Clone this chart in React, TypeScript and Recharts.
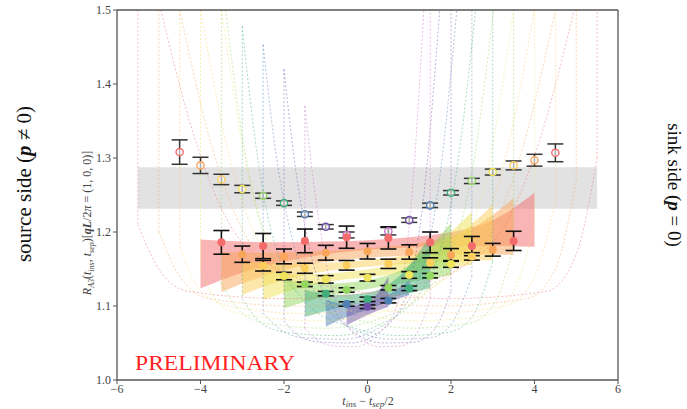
import { ComposedChart, XAxis, YAxis, Line, Area, Scatter, ErrorBar, ReferenceLine } from "recharts";

const FONT = "'Liberation Serif', 'DejaVu Serif', serif";

// colour per t_sep
const tsepColors: Record<number, string> = {
  9: "#f36b6b",
  8: "#f9a55a",
  7: "#fccf5c",
  6: "#f0e45a",
  5: "#94d861",
  4: "#3fae7a",
  3: "#4f7fb3",
  2: "#6f4fa8",
  1: "#c46dc4",
};

// ratio data, t_ins = 1 .. t_sep-1
const x9 = [-3.5, -2.5, -1.5, -0.5, 0.5, 1.5, 2.5, 3.5];
const y9 = [1.186, 1.181, 1.188, 1.193, 1.192, 1.186, 1.181, 1.188];
const e9 = [0.016, 0.017, 0.016, 0.015, 0.015, 0.014, 0.013, 0.013];
const x8 = [-3, -2, -1, 0, 1, 2, 3];
const y8 = [1.170, 1.167, 1.172, 1.174, 1.173, 1.169, 1.176];
const e8 = [0.011, 0.010, 0.010, 0.0105, 0.0097, 0.0086, 0.0086];
const x7 = [-2.5, -1.5, -0.5, 0.5, 1.5, 2.5];
const y7 = [1.1545, 1.151, 1.155, 1.157, 1.1586, 1.167];
const e7 = [0.0072, 0.0068, 0.0065, 0.0063, 0.0065, 0.005];
const x6 = [-2, -1, 0, 1, 2];
const y6 = [1.1405, 1.136, 1.1383, 1.1419, 1.1568];
const e6 = [0.005, 0.005, 0.0045, 0.0045, 0.0045];
const x5 = [-1.5, -0.5, 0.5, 1.5];
const y5 = [1.1293, 1.1216, 1.1247, 1.141];
const e5 = [0.003, 0.003, 0.003, 0.003];
const x4 = [-1, 0, 1];
const y4 = [1.1167, 1.109, 1.1239];
const e4 = [0.003, 0.003, 0.003];
const x3 = [-0.5, 0.5];
const y3 = [1.1027, 1.1072];
const e3 = [0.003, 0.003];
const x2 = [0];
const y2 = [1.099];
const e2 = [0.0025];

const filledSets = [
  { tsep: 9, x: x9, y: y9, e: e9 },
  { tsep: 8, x: x8, y: y8, e: e8 },
  { tsep: 7, x: x7, y: y7, e: e7 },
  { tsep: 6, x: x6, y: y6, e: e6 },
  { tsep: 5, x: x5, y: y5, e: e5 },
  { tsep: 4, x: x4, y: y4, e: e4 },
  { tsep: 3, x: x3, y: y3, e: e3 },
  { tsep: 2, x: x2, y: y2, e: e2 },
];

// open points at t_ins = 0 and t_ins = t_sep
const openX = [-4.5, -4, -3.5, -3, -2.5, -2, -1.5, -1, -0.5, 0.5, 1, 1.5, 2, 2.5, 3, 3.5, 4, 4.5];
const openY = [1.308, 1.290, 1.271, 1.258, 1.249, 1.239, 1.224, 1.207, 1.196, 1.201, 1.216, 1.236, 1.253, 1.269, 1.281, 1.290, 1.297, 1.307];
const openE = [0.0165, 0.011, 0.007, 0.005, 0.0035, 0.003, 0.003, 0.003, 0.004, 0.005, 0.003, 0.003, 0.003, 0.0035, 0.004, 0.006, 0.008, 0.012];
const openTsep = [9, 8, 7, 6, 5, 4, 3, 2, 1, 1, 2, 3, 4, 5, 6, 7, 8, 9];

// fit bands
const bandX9 = [-4, -3, -2, -1, 0, 1, 2, 3, 4];
const bandLo9 = [1.124, 1.145, 1.160, 1.170, 1.176, 1.179, 1.181, 1.181, 1.180];
const bandHi9 = [1.190, 1.187, 1.186, 1.187, 1.189, 1.193, 1.200, 1.216, 1.253];
const bandX8 = [-3.5, -2.5, -1.5, -0.5, 0.5, 1.5, 2.5, 3.5];
const bandLo8 = [1.119, 1.140, 1.155, 1.163, 1.167, 1.169, 1.170, 1.169];
const bandHi8 = [1.173, 1.172, 1.173, 1.176, 1.180, 1.188, 1.205, 1.2455];
const bandX7 = [-3, -2, -1, 0, 1, 2, 3];
const bandLo7 = [1.115, 1.135, 1.147, 1.153, 1.157, 1.160, 1.162];
const bandHi7 = [1.160, 1.157, 1.158, 1.162, 1.170, 1.190, 1.2365];
const bandX6 = [-2.5, -1.5, -0.5, 0.5, 1.5, 2.5];
const bandLo6 = [1.108, 1.126, 1.136, 1.142, 1.150, 1.1554];
const bandHi6 = [1.146, 1.143, 1.146, 1.155, 1.178, 1.2275];
const bandX5 = [-2, -1, 0, 1, 2];
const bandLo5 = [1.097, 1.113, 1.123, 1.132, 1.142];
const bandHi5 = [1.135, 1.130, 1.135, 1.155, 1.212];
const bandX4 = [-1.5, -0.75, 0, 0.75, 1.5];
const bandLo4 = [1.085, 1.097, 1.106, 1.114, 1.124];
const bandHi4 = [1.122, 1.115, 1.118, 1.140, 1.194];
const bandX3 = [-1, -0.5, 0, 0.5, 1];
const bandLo3 = [1.072, 1.085, 1.095, 1.105, 1.115];
const bandHi3 = [1.108, 1.103, 1.106, 1.115, 1.135];
const bandX2 = [-0.5, 0, 0.5];
const bandLo2 = [1.074, 1.088, 1.099];
const bandHi2 = [1.099, 1.105, 1.140];

const bands = [
  { tsep: 9, x: bandX9, lo: bandLo9, hi: bandHi9 },
  { tsep: 8, x: bandX8, lo: bandLo8, hi: bandHi8 },
  { tsep: 7, x: bandX7, lo: bandLo7, hi: bandHi7 },
  { tsep: 6, x: bandX6, lo: bandLo6, hi: bandHi6 },
  { tsep: 5, x: bandX5, lo: bandLo5, hi: bandHi5 },
  { tsep: 4, x: bandX4, lo: bandLo4, hi: bandHi4 },
  { tsep: 3, x: bandX3, lo: bandLo3, hi: bandHi3 },
  { tsep: 2, x: bandX2, lo: bandLo2, hi: bandHi2 },
];

// grey band (plateau estimate)
const greyX = [-5.5, 5.5];
const greyLo = 1.2315;
const greyHi = 1.2875;

// dashed fit curves, [x, y]
const curveA9 = [[-5.5, 1.21], [-5.0, 1.15], [-4.3, 1.12], [-2.0, 1.11], [0.8, 1.125], [2.9, 1.18], [4.1, 1.32], [4.95, 1.5]];
const curveB9 = [[-4.95, 1.5], [-4.1, 1.32], [-2.9, 1.18], [-0.8, 1.125], [2.0, 1.11], [4.3, 1.12], [5.0, 1.17], [5.5, 1.3]];
const curveA8 = [[-5.0, 1.2], [-4.5, 1.14], [-3.8, 1.11], [-1.7, 1.1], [0.7, 1.115], [2.6, 1.17], [3.7, 1.31], [4.5, 1.5]];
const curveB8 = [[-4.5, 1.5], [-3.7, 1.31], [-2.6, 1.17], [-0.7, 1.115], [1.7, 1.1], [3.8, 1.11], [4.5, 1.15], [5.0, 1.27]];
const curveA7 = [[-4.5, 1.18], [-4.0, 1.12], [-3.3, 1.1], [-1.5, 1.09], [0.6, 1.105], [2.3, 1.16], [3.3, 1.3], [4.0, 1.5]];
const curveB7 = [[-4.0, 1.5], [-3.3, 1.3], [-2.3, 1.16], [-0.6, 1.105], [1.5, 1.09], [3.3, 1.1], [4.0, 1.14], [4.5, 1.24]];
const curveA6 = [[-4.0, 1.15], [-3.5, 1.1], [-2.8, 1.087], [-1.2, 1.08], [0.5, 1.095], [2.0, 1.15], [2.9, 1.29], [3.5, 1.5]];
const curveB6 = [[-3.5, 1.5], [-2.9, 1.29], [-2.0, 1.15], [-0.5, 1.095], [1.2, 1.08], [2.8, 1.087], [3.5, 1.12], [4.0, 1.21]];
const curveA5 = [[-3.5, 1.13], [-3.0, 1.09], [-2.4, 1.076], [-1.0, 1.07], [0.4, 1.085], [1.7, 1.14], [2.5, 1.28], [3.02, 1.5]];
const curveB5 = [[-3.4, 1.5], [-3.0, 1.33], [-2.3, 1.17], [-1.2, 1.1], [0.0, 1.078], [1.0, 1.07], [2.4, 1.076], [3.0, 1.1], [3.5, 1.18]];
const curveA4 = [[-3.0, 1.11], [-2.5, 1.075], [-1.9, 1.064], [-0.8, 1.06], [0.3, 1.075], [1.4, 1.13], [2.1, 1.27], [2.59, 1.5]];
const curveB4 = [[-3.0, 1.478], [-2.75, 1.35], [-2.3, 1.2], [-1.4, 1.1], [-0.3, 1.07], [0.8, 1.06], [1.9, 1.064], [2.5, 1.085], [3.0, 1.16]];
const curveA3 = [[-2.5, 1.09], [-2.0, 1.065], [-1.5, 1.057], [-0.6, 1.055], [0.2, 1.068], [1.1, 1.12], [1.7, 1.26], [2.14, 1.5]];
const curveB3 = [[-2.5, 1.453], [-2.25, 1.33], [-1.8, 1.19], [-1.0, 1.1], [-0.2, 1.065], [0.6, 1.055], [1.5, 1.057], [2.0, 1.075], [2.5, 1.14]];
const curveA2 = [[-2.0, 1.08], [-1.6, 1.058], [-1.1, 1.051], [-0.4, 1.05], [0.2, 1.062], [0.9, 1.11], [1.35, 1.25], [1.73, 1.5]];
const curveB2 = [[-2.0, 1.42], [-1.78, 1.31], [-1.4, 1.18], [-0.8, 1.095], [-0.2, 1.06], [0.4, 1.05], [1.1, 1.051], [1.6, 1.068], [2.0, 1.12]];
const curveA1 = [[-1.5, 1.07], [-1.15, 1.052], [-0.8, 1.046], [-0.3, 1.045], [0.15, 1.057], [0.7, 1.1], [1.05, 1.24], [1.35, 1.5]];
const curveB1 = [[-1.5, 1.37], [-1.3, 1.27], [-1.0, 1.16], [-0.6, 1.085], [-0.15, 1.055], [0.3, 1.045], [0.8, 1.046], [1.15, 1.06], [1.5, 1.11]];

// top of the spike where each curve leaves its left pole
const poleTopLeft = [1.5, 1.5, 1.5, 1.5, 1.5, 1.478, 1.453, 1.42, 1.37];
const curves = [
  { tsep: 9, a: curveA9, b: curveB9 },
  { tsep: 8, a: curveA8, b: curveB8 },
  { tsep: 7, a: curveA7, b: curveB7 },
  { tsep: 6, a: curveA6, b: curveB6 },
  { tsep: 5, a: curveA5, b: curveB5 },
  { tsep: 4, a: curveA4, b: curveB4 },
  { tsep: 3, a: curveA3, b: curveB3 },
  { tsep: 2, a: curveA2, b: curveB2 },
  { tsep: 1, a: curveA1, b: curveB1 },
];

const xTicks = [-6, -4, -2, 0, 2, 4, 6];
const yTicks = [1.0, 1.1, 1.2, 1.3, 1.4, 1.5];

const toPts = (arr: number[][]) => arr.map(([x, y]) => ({ x, y }));

const dashProps = {
  dataKey: "y",
  strokeOpacity: 0.45,
  strokeWidth: 1,
  strokeDasharray: "2 2",
  dot: false,
  isAnimationActive: false,
};

export default function App() {
  const openData = openX.map((x, i) => ({ x, y: openY[i], e: openE[i], c: tsepColors[openTsep[i]] }));
  const tick = { fontSize: 12, fill: "#444", fontFamily: FONT };

  return (
    <div style={{ position: "absolute", left: 0, top: 0, width: 687, height: 409, background: "#fff" }}>
      <ComposedChart width={687} height={409} margin={{ top: 10, right: 69, bottom: 0, left: 77 }}>
        <XAxis
          type="number"
          dataKey="x"
          domain={[-6, 6]}
          ticks={xTicks}
          allowDataOverflow
          height={29}
          tickSize={4}
          tickMargin={0}
          tick={tick}
          tickFormatter={(v: number) => (v < 0 ? "\u2212" + Math.abs(v) : String(v))}
          axisLine={{ stroke: "#555", strokeWidth: 1.3 }}
          tickLine={{ stroke: "#555" }}
        />
        <YAxis
          type="number"
          dataKey="y"
          domain={[1.0, 1.5]}
          ticks={yTicks}
          allowDataOverflow
          width={40}
          tickSize={4}
          tick={tick}
          tickFormatter={(v: number) => v.toFixed(1)}
          axisLine={{ stroke: "#555", strokeWidth: 1.3 }}
          tickLine={{ stroke: "#555" }}
        />

        {/* grey plateau band */}
        <Area
          data={greyX.map((x) => ({ x, r: [greyLo, greyHi] }))}
          dataKey="r"
          type="linear"
          stroke="none"
          fill="#e2e2e2"
          fillOpacity={1}
          isAnimationActive={false}
        />

        {/* dashed fit curves */}
        {curves.map((c) => (
          <Line key={"a" + c.tsep} data={toPts(c.a)} type="monotone" stroke={tsepColors[c.tsep]} {...dashProps} />
        ))}
        {curves.map((c, i) => (
          <Line
            key={"pa" + c.tsep}
            data={[{ x: c.a[0][0], y: poleTopLeft[i] }, { x: c.a[0][0], y: c.a[0][1] }]}
            type="linear"
            stroke={tsepColors[c.tsep]}
            {...dashProps}
          />
        ))}
        {curves.map((c) => (
          <Line key={"b" + c.tsep} data={toPts(c.b)} type="monotone" stroke={tsepColors[c.tsep]} {...dashProps} />
        ))}
        {curves.map((c) => {
          const last = c.b[c.b.length - 1];
          return (
            <Line
              key={"pb" + c.tsep}
              data={[{ x: last[0], y: last[1] }, { x: last[0], y: 1.5 }]}
              type="linear"
              stroke={tsepColors[c.tsep]}
              {...dashProps}
            />
          );
        })}

        {/* fit bands */}
        {bands.map((b) => (
          <Area
            key={"band" + b.tsep}
            data={b.x.map((x, i) => ({ x, r: [b.lo[i], b.hi[i]] }))}
            dataKey="r"
            type="monotone"
            stroke="none"
            fill={tsepColors[b.tsep]}
            fillOpacity={0.5}
            isAnimationActive={false}
          />
        ))}

        {/* error bars first, markers on top */}
        <Scatter data={openData} isAnimationActive={false} shape={() => <g />}>
          <ErrorBar dataKey="e" direction="y" width={8} stroke="#333" strokeWidth={1.5} />
        </Scatter>
        {filledSets.map((s) => (
          <Scatter
            key={"err" + s.tsep}
            data={s.x.map((x, i) => ({ x, y: s.y[i], e: s.e[i] }))}
            isAnimationActive={false}
            shape={() => <g />}
          >
            <ErrorBar dataKey="e" direction="y" width={8} stroke="#111" strokeWidth={1.6} />
          </Scatter>
        ))}

        <Scatter
          data={openData}
          isAnimationActive={false}
          shape={(p: any) => (
            <circle
              cx={p.cx}
              cy={p.cy}
              r={3.6}
              fill="#fff"
              fillOpacity={0.6}
              stroke={p.payload?.c ?? p.c}
              strokeWidth={1.4}
            />
          )}
        />
        {filledSets.map((s) => (
          <Scatter
            key={"pts" + s.tsep}
            data={s.x.map((x, i) => ({ x, y: s.y[i] }))}
            isAnimationActive={false}
            shape={(p: any) => <circle cx={p.cx} cy={p.cy} r={4} fill={tsepColors[s.tsep]} />}
          />
        ))}

        <ReferenceLine y={1.5} stroke="#555" strokeWidth={1.3} />
        <ReferenceLine x={6} stroke="#555" strokeWidth={1.3} />
      </ComposedChart>

      <svg
        width={687}
        height={409}
        style={{ position: "absolute", left: 0, top: 0, pointerEvents: "none" }}
        fontFamily={FONT}
      >
        <text x={135} y={370} fontSize={22} fill="#ff1f1f" textLength={160} lengthAdjust="spacingAndGlyphs">
          PRELIMINARY
        </text>
        <text x={31} y={184} fontSize={21} fill="#111" textAnchor="middle" transform="rotate(-90 31 184)">
          source side (<tspan fontWeight="bold" fontStyle="italic">p</tspan> ≠ 0)
        </text>
        <text x={668} y={185} fontSize={19} fill="#111" textAnchor="middle" transform="rotate(90 668 185)">
          sink side (<tspan fontWeight="bold" fontStyle="italic">p</tspan> = 0)
        </text>
        <text x={91} y={223} fontSize={12} fill="#444" textAnchor="middle" transform="rotate(-90 91 223)">
          <tspan fontStyle="italic">R</tspan>
          <tspan fontSize={8} fontStyle="italic" dy={3}>A3</tspan>
          <tspan dy={-3}>(</tspan>
          <tspan fontStyle="italic">t</tspan>
          <tspan fontSize={8} fontStyle="italic" dy={3}>ins</tspan>
          <tspan dy={-3}>, </tspan>
          <tspan fontStyle="italic">t</tspan>
          <tspan fontSize={8} fontStyle="italic" dy={3}>sep</tspan>
          <tspan dy={-3}>)[</tspan>
          <tspan fontWeight="bold" fontStyle="italic">qL</tspan>
          <tspan>/2</tspan>
          <tspan fontStyle="italic">π</tspan>
          <tspan> = (1, 0, 0)]</tspan>
        </text>
        <text x={368} y={405} fontSize={12} fill="#444" textAnchor="middle">
          <tspan fontStyle="italic">t</tspan>
          <tspan fontSize={9} fontStyle="italic" dy={2}>ins</tspan>
          <tspan dy={-2}> − </tspan>
          <tspan fontStyle="italic">t</tspan>
          <tspan fontSize={9} fontStyle="italic" dy={2}>sep</tspan>
          <tspan dy={-2}>/2</tspan>
        </text>
      </svg>
    </div>
  );
}
